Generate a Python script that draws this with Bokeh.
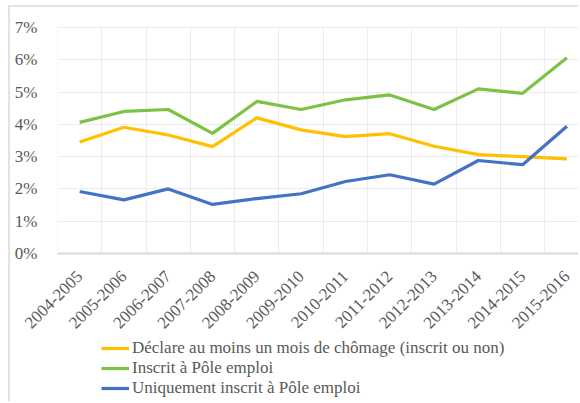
from math import pi
from bokeh.plotting import figure
from bokeh.models import (FixedTicker, NumeralTickFormatter, Legend, LegendItem,
                          Range1d, Span, BoxAnnotation)
from bokeh.embed import file_html
from bokeh.resources import INLINE

years = ["2004-2005", "2005-2006", "2006-2007", "2007-2008", "2008-2009", "2009-2010",
         "2010-2011", "2011-2012", "2012-2013", "2013-2014", "2014-2015", "2015-2016"]
declare = [3.45, 3.91, 3.67, 3.31, 4.20, 3.83, 3.62, 3.71, 3.32, 3.06, 3.00, 2.93]
inscrit = [4.06, 4.40, 4.46, 3.72, 4.71, 4.46, 4.76, 4.91, 4.46, 5.10, 4.96, 6.06]
uniquement = [1.92, 1.66, 2.00, 1.52, 1.70, 1.85, 2.23, 2.44, 2.15, 2.88, 2.75, 3.94]
series_names = ["Déclare au moins un mois de chômage (inscrit ou non)",
                "Inscrit à Pôle emploi",
                "Uniquement inscrit à Pôle emploi"]
colors = ["#FFC000", "#7CC243", "#4472C4"]

FONT = "Liberation Serif"
TXT = "#595959"
FS = "17px"
GRID = "#d9d9d9"

xs = list(range(len(years)))
to_frac = lambda v: [a / 100 for a in v]

# The frame fills the whole canvas; both axes sit at fixed locations
# (left edge of the first category, and 0 %), and white boxes hide the
# grid outside the plotting area.
p = figure(width=570, height=396, output_backend="svg", toolbar_location=None,
           x_range=Range1d(-1.561, 11.306), y_range=Range1d(-0.04646, 0.07619),
           min_border_left=0, min_border_right=0, min_border_top=0, min_border_bottom=0)
p.styles = {"margin-left": "8px", "margin-top": "5px",
            "border-left": "2px solid #e3e3e3", "border-top": "2px solid #e3e3e3"}
p.outline_line_color = None
p.background_fill_color = "white"

p.yaxis.ticker = FixedTicker(ticks=[i / 100 for i in range(8)])
p.yaxis.formatter = NumeralTickFormatter(format="0%")
p.yaxis.fixed_location = -0.5
p.xaxis.ticker = FixedTicker(ticks=xs)
p.xaxis.major_label_overrides = {i: y for i, y in enumerate(years)}
p.xaxis.major_label_orientation = pi / 4
p.xaxis.fixed_location = 0
for ax in (p.xaxis[0], p.yaxis[0]):
    ax.axis_line_color = None
    ax.major_tick_line_color = None
    ax.minor_tick_line_color = None
    ax.major_label_text_font = FONT
    ax.major_label_text_font_size = FS
    ax.major_label_text_color = TXT
p.yaxis.major_label_standoff = 14
p.xaxis.major_label_standoff = 14

xgrid = p.xgrid[0]
ygrid = p.ygrid[0]
xgrid.ticker = FixedTicker(ticks=[i - 0.5 for i in range(13)])
xgrid.grid_line_color = GRID
xgrid.grid_line_dash = "1 1"
ygrid.grid_line_color = GRID
ygrid.grid_line_dash = "1 1"

box_top = BoxAnnotation(bottom=0.07, fill_color="white", fill_alpha=1, line_color=None,
                        level="underlay")
box_below = BoxAnnotation(top=0, fill_color="white", fill_alpha=1, line_color=None,
                          level="underlay")
box_left = BoxAnnotation(right=-0.5, fill_color="white", fill_alpha=1, line_color=None,
                         level="underlay")
baseline = Span(location=0, dimension="width", line_color=GRID, line_width=2,
                level="underlay")

renderers = []
for vals, c in zip([declare, inscrit, uniquement], colors):
    r = p.line(xs, to_frac(vals), line_color=c, line_width=3.2)
    renderers.append(r)

legend = Legend(items=[LegendItem(label=n, renderers=[r]) for n, r in zip(series_names, renderers)],
                location=(91, 5), orientation="vertical",
                label_text_font=FONT, label_text_font_size=FS, label_text_color=TXT,
                glyph_width=28, glyph_height=20, label_height=20, label_standoff=3,
                spacing=0, padding=0, margin=0, border_line_color=None,
                background_fill_alpha=0)

p.center = [xgrid, box_top, box_below, ygrid, baseline, box_left, legend]

open("out.html", "w").write(file_html(p, INLINE))
